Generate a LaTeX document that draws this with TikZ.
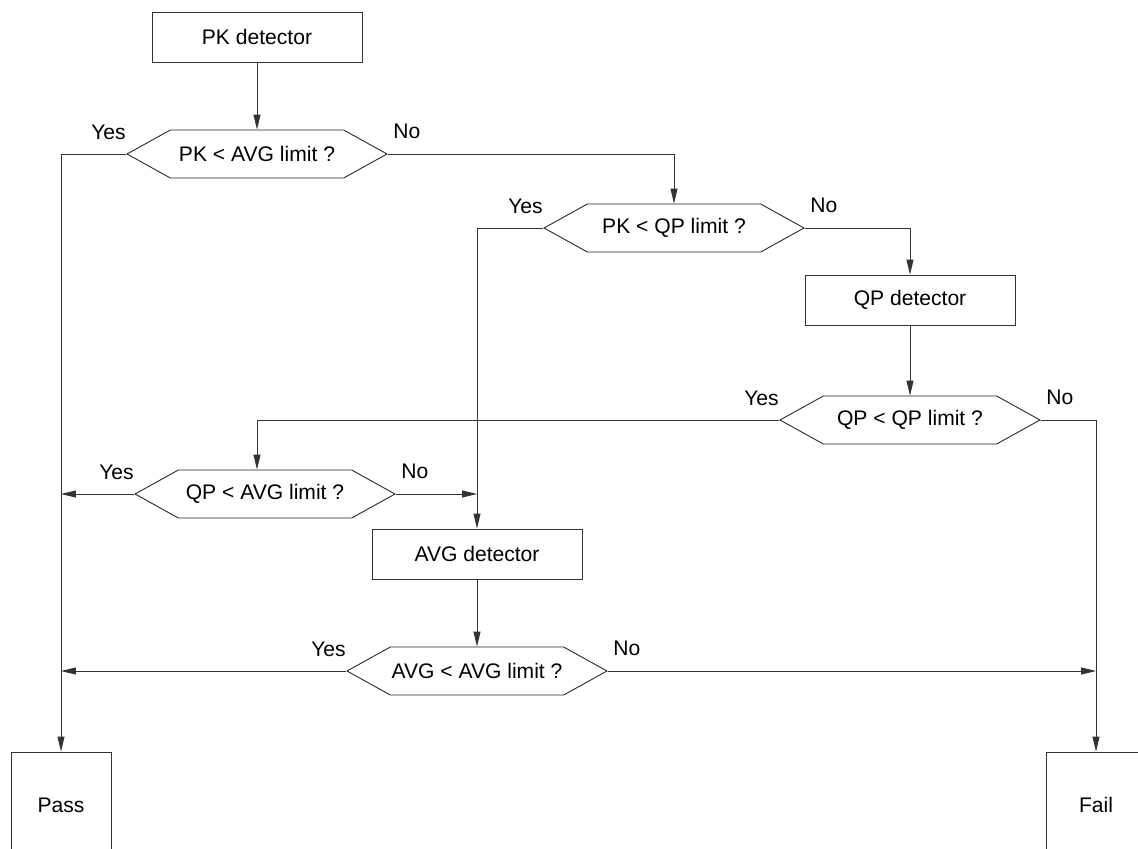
\documentclass[tikz,border=0pt]{standalone}
\usepackage{fontspec}
\setmainfont{Liberation Sans}
\usetikzlibrary{arrows.meta, shapes.symbols}

\begin{document}
\begin{tikzpicture}[x=0.02cm, y=-0.02cm,
  font=\fontsize{12}{14}\selectfont,
  box/.style={rectangle, draw=black!80, line width=0.5pt,
    minimum width=4.2cm, minimum height=1cm, inner sep=0pt},
  endbox/.style={box, minimum width=2cm, minimum height=2.12cm},
  dec/.style={signal, signal to=east and west, signal pointer angle=58,
    draw=black!85, line width=0.5pt, minimum width=5.2cm,
    minimum height=0.96cm, inner sep=0pt},
  arr/.style={-{Triangle[length=0.3cm, width=0.14cm]}, line width=0.5pt, draw=black!80},
  yes/.style={anchor=east, inner sep=0pt, yshift=0.44cm, text=black},
  no/.style={anchor=west, inner sep=0pt, xshift=0.1cm, yshift=0.46cm, text=black},
]
  \path[use as bounding box, clip] (0,0) rectangle (1138,848);

  % detectors
  \node[box] (pkd) at (257,37) {PK detector};
  \node[box] (qpd) at (910,300) {QP detector};
  \node[box] (avgd) at (477,554) {AVG detector};

  % decisions
  \node[dec] (pkavg) at (257,154) {PK < AVG limit ?};
  \node[dec] (pkqp) at (674,228) {PK < QP limit ?};
  \node[dec] (qpqp) at (910,420) {QP < QP limit ?};
  \node[dec] (qpavg) at (265,494) {QP < AVG limit ?};
  \node[dec] (avgavg) at (477,671) {AVG < AVG limit ?};

  % results (cut by the page edge)
  \node[endbox] (pass) at (61,805) {Pass};
  \node[endbox] (fail) at (1096,805) {Fail};

  % PK path
  \draw[arr] (pkd.south) -- (pkavg.north);
  \draw[arr] (pkavg.west) node[yes]{Yes} -| (pass.north);
  \draw[arr] (pkavg.east) node[no]{No} -| (pkqp.north);
  \draw[arr] (pkqp.west) node[yes]{Yes} -| (avgd.north);
  \draw[arr] (pkqp.east) node[no]{No} -| (qpd.north);

  % QP path
  \draw[arr] (qpd.south) -- (qpqp.north);
  \draw[arr] (qpqp.west) node[yes]{Yes} -| ([xshift=-0.16cm]qpavg.north);
  \draw[arr] (qpqp.east) node[no]{No} -| (fail.north);
  \draw[arr] (qpavg.west) node[yes]{Yes} -- (qpavg.west -| pass.north);
  \draw[arr] (qpavg.east) node[no]{No} -- (qpavg.east -| avgd.north);

  % AVG path
  \draw[arr] (avgd.south) -- (avgavg.north);
  \draw[arr] (avgavg.west) node[yes]{Yes} -- (avgavg.west -| pass.north);
  \draw[arr] (avgavg.east) node[no]{No} -- (avgavg.east -| fail.north);
\end{tikzpicture}
\end{document}
